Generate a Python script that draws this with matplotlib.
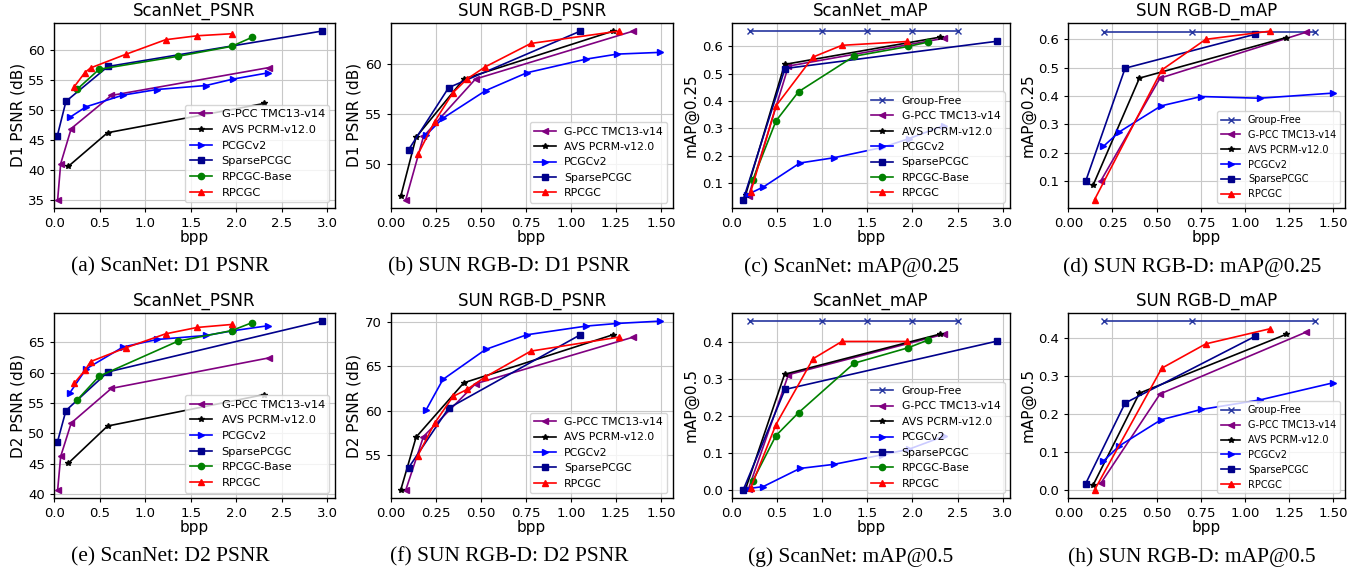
import matplotlib
matplotlib.use("Agg")
import matplotlib.pyplot as plt
from matplotlib.ticker import MultipleLocator

# ---------------- ScanNet (PSNR) ----------------
sn_gpcc_bpp = [0.037, 0.07, 0.186, 0.628, 2.355]
sn_gpcc_d1 = [35.0, 41.0, 46.9, 52.45, 57.1]
sn_gpcc_d2 = [40.7, 46.2, 51.7, 57.4, 62.4]

sn_avs_bpp = [0.153, 0.585, 2.307]
sn_avs_d1 = [40.55, 46.2, 51.1]
sn_avs_d2 = [45.07, 51.2, 56.37]

sn_pcgc_bpp = [0.171, 0.35, 0.755, 1.128, 1.668, 1.96, 2.347]
sn_pcgc_d1 = [48.78, 50.55, 52.5, 53.44, 54.11, 55.17, 56.22]
sn_pcgc_d2 = [56.66, 60.6, 64.2, 65.44, 66.1, 66.87, 67.7]

sn_sparse_bpp = [0.033, 0.128, 0.59, 2.94]
sn_sparse_d1 = [45.67, 51.45, 57.3, 63.22]
sn_sparse_d2 = [48.5, 53.75, 60.1, 68.46]

sn_base_bpp = [0.252, 0.493, 1.358, 1.949, 2.172]
sn_base_d1 = [53.5, 56.83, 59.0, 60.67, 62.17]
sn_base_d2 = [55.5, 59.4, 65.16, 66.9, 68.2]

sn_rpcgc_bpp = [0.219, 0.336, 0.398, 0.785, 1.223, 1.569, 1.949]
sn_rpcgc_d1 = [53.9, 56.28, 57.05, 59.33, 61.78, 62.44, 62.78]
sn_rpcgc_d2 = [58.25, 60.34, 61.8, 64.07, 66.37, 67.42, 67.91]

# ---------------- SUN RGB-D (PSNR) ----------------
su_gpcc_bpp = [0.084, 0.182, 0.471, 1.346]
su_gpcc_d1 = [46.46, 52.75, 58.48, 63.25]
su_gpcc_d2 = [51.04, 57.07, 63.03, 68.3]

su_avs_bpp = [0.056, 0.141, 0.406, 1.234]
su_avs_d1 = [46.79, 52.68, 58.48, 63.25]
su_avs_d2 = [51.04, 57.0, 63.14, 68.57]

su_pcgc_bpp = [0.197, 0.29, 0.527, 0.756, 1.085, 1.258, 1.494]
su_pcgc_d1 = [52.91, 54.57, 57.32, 59.1, 60.46, 60.96, 61.13]
su_pcgc_d2 = [60.09, 63.52, 66.91, 68.57, 69.55, 69.85, 70.11]

su_sparse_bpp = [0.099, 0.322, 1.053]
su_sparse_d1 = [51.42, 57.62, 63.25]
su_sparse_d2 = [53.53, 60.28, 68.57]

su_rpcgc_bpp = [0.151, 0.244, 0.346, 0.424, 0.523, 0.778, 1.266]
su_rpcgc_d1 = [50.96, 54.24, 57.12, 58.48, 59.67, 62.02, 63.25]
su_rpcgc_d2 = [54.92, 58.58, 61.6, 62.39, 63.78, 66.72, 68.3]

# ---------------- ScanNet (mAP) ----------------
snm_gf_bpp = [0.2, 1.0, 1.5, 2.0, 2.5]
snm_gf_25 = [0.656, 0.656, 0.656, 0.656, 0.656]
snm_gf_50 = [0.457, 0.457, 0.457, 0.457, 0.457]

snm_gpcc_bpp = [0.186, 0.628, 2.355]
snm_gpcc_25 = [0.051, 0.528, 0.63]
snm_gpcc_50 = [0.003, 0.312, 0.422]

snm_avs_bpp = [0.153, 0.585, 2.307]
snm_avs_25 = [0.055, 0.534, 0.634]
snm_avs_50 = [0.002, 0.313, 0.422]

snm_pcgc_bpp = [0.171, 0.35, 0.755, 1.128, 1.668, 1.96, 2.347]
snm_pcgc_25 = [0.057, 0.085, 0.173, 0.192, 0.23, 0.262, 0.31]
snm_pcgc_50 = [0.003, 0.009, 0.058, 0.069, 0.095, 0.11, 0.145]

snm_sparse_bpp = [0.128, 0.59, 2.94]
snm_sparse_25 = [0.039, 0.519, 0.619]
snm_sparse_50 = [0.0, 0.272, 0.403]

snm_base_bpp = [0.235, 0.49, 0.74, 1.355, 1.955, 2.175]
snm_base_25 = [0.112, 0.327, 0.434, 0.564, 0.6, 0.616]
snm_base_50 = [0.025, 0.147, 0.209, 0.343, 0.385, 0.406]

snm_rpcgc_bpp = [0.21, 0.49, 0.9, 1.22, 1.945]
snm_rpcgc_25 = [0.066, 0.382, 0.561, 0.604, 0.618]
snm_rpcgc_50 = [0.005, 0.177, 0.355, 0.402, 0.402]

# ---------------- SUN RGB-D (mAP) ----------------
sum_gf_bpp = [0.2, 0.7, 1.4]
sum_gf_25 = [0.625, 0.625, 0.625]
sum_gf_50 = [0.445, 0.445, 0.445]

sum_gpcc_bpp = [0.185, 0.52, 1.347]
sum_gpcc_25 = [0.101, 0.463, 0.625]
sum_gpcc_50 = [0.018, 0.253, 0.416]

sum_avs_bpp = [0.142, 0.403, 1.233]
sum_avs_25 = [0.087, 0.463, 0.606]
sum_avs_50 = [0.014, 0.255, 0.41]

sum_pcgc_bpp = [0.199, 0.289, 0.526, 0.753, 1.084, 1.498]
sum_pcgc_25 = [0.222, 0.273, 0.365, 0.398, 0.392, 0.41]
sum_pcgc_50 = [0.076, 0.116, 0.185, 0.212, 0.237, 0.282]

sum_sparse_bpp = [0.098, 0.322, 1.059]
sum_sparse_25 = [0.098, 0.498, 0.618]
sum_sparse_50 = [0.016, 0.229, 0.405]

sum_rpcgc_bpp = [0.149, 0.53, 0.779, 1.144]
sum_rpcgc_25 = [0.034, 0.492, 0.6, 0.629]
sum_rpcgc_50 = [0.0, 0.321, 0.385, 0.425]

captions = ["(a) ScanNet: D1 PSNR", "(b) SUN RGB-D: D1 PSNR",
            "(c) ScanNet: mAP@0.25", "(d) SUN RGB-D: mAP@0.25",
            "(e) ScanNet: D2 PSNR", "(f) SUN RGB-D: D2 PSNR",
            "(g) ScanNet: mAP@0.5", "(h) SUN RGB-D: mAP@0.5"]

STYLE = {
    "Group-Free": dict(color="#2636a0", marker="x", ms=4, mew=1.0),
    "G-PCC TMC13-v14": dict(color="purple", marker="<", ms=4.5),
    "AVS PCRM-v12.0": dict(color="black", marker="*", ms=4),
    "PCGCv2": dict(color="blue", marker=">", ms=4.5),
    "SparsePCGC": dict(color="darkblue", marker="s", ms=4.5),
    "RPCGC-Base": dict(color="green", marker="o", ms=4.5),
    "RPCGC": dict(color="red", marker="^", ms=4.5),
}

panels = [
    dict(title="ScanNet_PSNR", ylabel="D1 PSNR (dB)", xstep=0.5, lfs=8.2,
         series=[("G-PCC TMC13-v14", sn_gpcc_bpp, sn_gpcc_d1),
                 ("AVS PCRM-v12.0", sn_avs_bpp, sn_avs_d1),
                 ("PCGCv2", sn_pcgc_bpp, sn_pcgc_d1),
                 ("SparsePCGC", sn_sparse_bpp, sn_sparse_d1),
                 ("RPCGC-Base", sn_base_bpp, sn_base_d1),
                 ("RPCGC", sn_rpcgc_bpp, sn_rpcgc_d1)]),
    dict(title="SUN RGB-D_PSNR", ylabel="D1 PSNR (dB)", xstep=0.25, lfs=7.8,
         series=[("G-PCC TMC13-v14", su_gpcc_bpp, su_gpcc_d1),
                 ("AVS PCRM-v12.0", su_avs_bpp, su_avs_d1),
                 ("PCGCv2", su_pcgc_bpp, su_pcgc_d1),
                 ("SparsePCGC", su_sparse_bpp, su_sparse_d1),
                 ("RPCGC", su_rpcgc_bpp, su_rpcgc_d1)]),
    dict(title="ScanNet_mAP", ylabel="mAP@0.25", xstep=0.5, lfs=7.8,
         series=[("Group-Free", snm_gf_bpp, snm_gf_25),
                 ("G-PCC TMC13-v14", snm_gpcc_bpp, snm_gpcc_25),
                 ("AVS PCRM-v12.0", snm_avs_bpp, snm_avs_25),
                 ("PCGCv2", snm_pcgc_bpp, snm_pcgc_25),
                 ("SparsePCGC", snm_sparse_bpp, snm_sparse_25),
                 ("RPCGC-Base", snm_base_bpp, snm_base_25),
                 ("RPCGC", snm_rpcgc_bpp, snm_rpcgc_25)]),
    dict(title="SUN RGB-D_mAP", ylabel="mAP@0.25", xstep=0.25, lfs=7.0,
         series=[("Group-Free", sum_gf_bpp, sum_gf_25),
                 ("G-PCC TMC13-v14", sum_gpcc_bpp, sum_gpcc_25),
                 ("AVS PCRM-v12.0", sum_avs_bpp, sum_avs_25),
                 ("PCGCv2", sum_pcgc_bpp, sum_pcgc_25),
                 ("SparsePCGC", sum_sparse_bpp, sum_sparse_25),
                 ("RPCGC", sum_rpcgc_bpp, sum_rpcgc_25)]),
    dict(title="ScanNet_PSNR", ylabel="D2 PSNR (dB)", xstep=0.5, lfs=8.2,
         series=[("G-PCC TMC13-v14", sn_gpcc_bpp, sn_gpcc_d2),
                 ("AVS PCRM-v12.0", sn_avs_bpp, sn_avs_d2),
                 ("PCGCv2", sn_pcgc_bpp, sn_pcgc_d2),
                 ("SparsePCGC", sn_sparse_bpp, sn_sparse_d2),
                 ("RPCGC-Base", sn_base_bpp, sn_base_d2),
                 ("RPCGC", sn_rpcgc_bpp, sn_rpcgc_d2)]),
    dict(title="SUN RGB-D_PSNR", ylabel="D2 PSNR (dB)", xstep=0.25, lfs=7.8,
         series=[("G-PCC TMC13-v14", su_gpcc_bpp, su_gpcc_d2),
                 ("AVS PCRM-v12.0", su_avs_bpp, su_avs_d2),
                 ("PCGCv2", su_pcgc_bpp, su_pcgc_d2),
                 ("SparsePCGC", su_sparse_bpp, su_sparse_d2),
                 ("RPCGC", su_rpcgc_bpp, su_rpcgc_d2)]),
    dict(title="ScanNet_mAP", ylabel="mAP@0.5", xstep=0.5, lfs=7.8,
         series=[("Group-Free", snm_gf_bpp, snm_gf_50),
                 ("G-PCC TMC13-v14", snm_gpcc_bpp, snm_gpcc_50),
                 ("AVS PCRM-v12.0", snm_avs_bpp, snm_avs_50),
                 ("PCGCv2", snm_pcgc_bpp, snm_pcgc_50),
                 ("SparsePCGC", snm_sparse_bpp, snm_sparse_50),
                 ("RPCGC-Base", snm_base_bpp, snm_base_50),
                 ("RPCGC", snm_rpcgc_bpp, snm_rpcgc_50)]),
    dict(title="SUN RGB-D_mAP", ylabel="mAP@0.5", xstep=0.25, lfs=7.0,
         series=[("Group-Free", sum_gf_bpp, sum_gf_50),
                 ("G-PCC TMC13-v14", sum_gpcc_bpp, sum_gpcc_50),
                 ("AVS PCRM-v12.0", sum_avs_bpp, sum_avs_50),
                 ("PCGCv2", sum_pcgc_bpp, sum_pcgc_50),
                 ("SparsePCGC", sum_sparse_bpp, sum_sparse_50),
                 ("RPCGC", sum_rpcgc_bpp, sum_rpcgc_50)]),
]

W, H = 1359, 581
fig = plt.figure(figsize=(W / 100, H / 100), dpi=100)

lefts = [54.3, 390.7, 731.7, 1068.3]
rights = [335.0, 672.7, 1010.0, 1345.0]
tops = [22.7, 312.7]
bottoms = [208.0, 498.3]
cap_x = [170, 509, 851, 1192]
cap_y = [267, 557]

for i, p in enumerate(panels):
    r, c = divmod(i, 4)
    ax = fig.add_axes([lefts[c] / W, 1 - bottoms[r] / H,
                       (rights[c] - lefts[c]) / W, (bottoms[r] - tops[r]) / H])
    for name, xs, ys in p["series"]:
        st = STYLE[name]
        ax.plot(xs, ys, color=st["color"], marker=st["marker"], ms=st["ms"],
                mew=st.get("mew", 1.0), lw=1.2, label=name)
    ax.set_xlim(left=0)
    ax.xaxis.set_major_locator(MultipleLocator(p["xstep"]))
    if p["xstep"] == 0.25:
        ax.xaxis.set_major_formatter(matplotlib.ticker.FormatStrFormatter("%.2f"))
    else:
        ax.xaxis.set_major_formatter(matplotlib.ticker.FormatStrFormatter("%.1f"))
    ax.grid(True, color="#c8c8c8", lw=0.8)
    ax.set_axisbelow(True)
    ax.tick_params(labelsize=9.5, length=3, width=0.8)
    for s in ax.spines.values():
        s.set_linewidth(1.0)
    ax.set_title(p["title"], fontsize=12, pad=5)
    ax.set_xlabel("bpp", fontsize=11, labelpad=0)
    ax.set_ylabel(p["ylabel"], fontsize=11, labelpad=2)
    ax.legend(loc="lower right", fontsize=p["lfs"], handlelength=2.0)
    fig.text(cap_x[c] / W, 1 - cap_y[r] / H, captions[i], ha="center",
             va="center", fontsize=15.5, family="Liberation Serif")

fig.savefig("out.png", dpi=100)
